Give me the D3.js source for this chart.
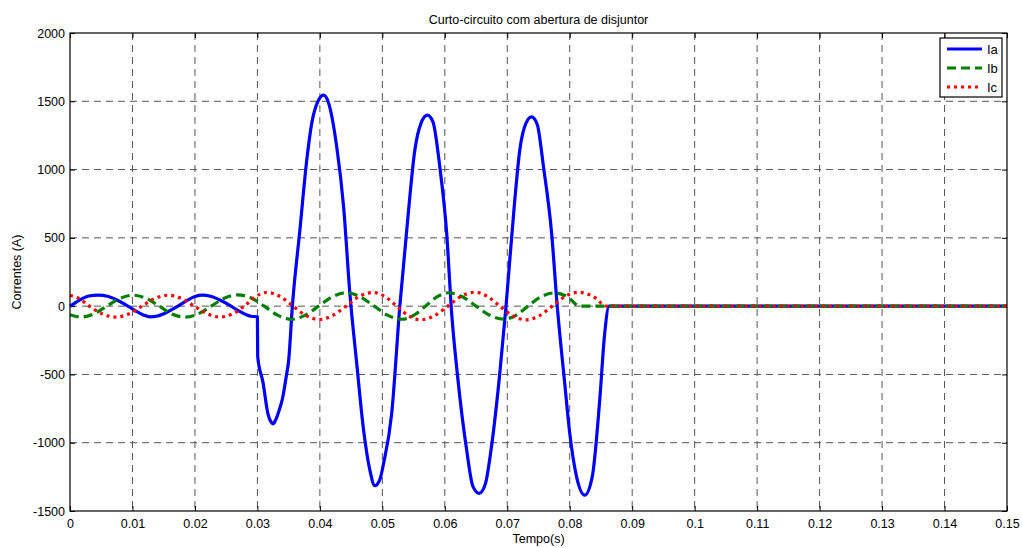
<!DOCTYPE html>
<html>
<head>
<meta charset="utf-8">
<script src="https://cdn.jsdelivr.net/npm/d3@7"></script>
<style>
  body { margin: 0; background: #fff; }
  text { font-family: "Liberation Sans", Arial, sans-serif; }
</style>
</head>
<body>
<div id="chart"></div>
<script>
// tick labels
var xTicks = [0, 0.01, 0.02, 0.03, 0.04, 0.05, 0.06, 0.07, 0.08, 0.09, 0.1, 0.11, 0.12, 0.13, 0.14, 0.15];
var yTicks = [-1500, -1000, -500, 0, 500, 1000, 1500, 2000];
var seriesNames = ["Ia", "Ib", "Ic"];

// [tempo (s), corrente (A)]
var ia = [
  [0, 0], [0.001, 30], [0.002, 56], [0.003, 74], [0.0045, 80], [0.006, 72], [0.0075, 45],
  [0.009, 8], [0.0105, -35], [0.0118, -66], [0.0128, -78], [0.014, -72], [0.0155, -45],
  [0.017, -8], [0.0185, 35], [0.02, 70], [0.0212, 80], [0.0225, 72], [0.024, 45],
  [0.0255, 8], [0.027, -35], [0.0283, -64], [0.029, -74], [0.0300, -78],
  [0.03005, -370], [0.0309, -560], [0.0317, -790], [0.0322, -850], [0.0325, -862],
  [0.0329, -835], [0.0335, -760], [0.034, -680], [0.0346, -520], [0.035, -400],
  [0.0356, 0], [0.0368, 556], [0.0379, 1069],
  [0.0387, 1340], [0.0398, 1510], [0.0406, 1545], [0.0413, 1500], [0.0427, 1166],
  [0.0438, 727], [0.0448, 95], [0.0459, -420], [0.047, -908], [0.048, -1200],
  [0.0488, -1315], [0.0496, -1270], [0.0502, -1152], [0.0515, -785], [0.0528, 0],
  [0.0541, 654], [0.0552, 1142], [0.0562, 1340], [0.0572, 1398], [0.0581, 1350],
  [0.0592, 1020], [0.0603, 534], [0.0611, -53], [0.0620, -493], [0.0635, -1054],
  [0.0645, -1320], [0.0655, -1371], [0.0665, -1300], [0.0674, -1054], [0.0688, -493],
  [0.0698, 0], [0.0712, 776], [0.072, 1142], [0.073, 1340], [0.0739, 1386],
  [0.0748, 1330], [0.0758, 1020], [0.0771, 534], [0.078, 0], [0.0792, -566],
  [0.08, -930], [0.0811, -1250], [0.0824, -1384], [0.0836, -1250], [0.0848, -688],
  [0.0856, -198], [0.0863, 0], [0.15, 0]
];

var ib = [
  [0, -63], [0.0018, -80], [0.0038, -57], [0.0059, 0], [0.008, 57], [0.0101, 80],
  [0.0122, 57], [0.0143, 0], [0.0163, -57], [0.0184, -80], [0.0205, -57], [0.0226, 0],
  [0.0247, 58], [0.0268, 82], [0.029, 60], [0.0311, 0], [0.0333, -68], [0.0355, -96],
  [0.0376, -68], [0.0398, 0], [0.042, 69], [0.0442, 98], [0.0464, 69], [0.0487, 0],
  [0.0509, -68], [0.0531, -96], [0.055, -68], [0.0569, 0], [0.0588, 69], [0.0606, 98],
  [0.0628, 69], [0.065, 0], [0.0672, -67], [0.0694, -95], [0.0714, -67], [0.0733, 0],
  [0.0754, 69], [0.0776, 97], [0.0796, 69], [0.0816, 0], [0.15, 0]
];

var ic = [
  [0, 78], [0.0011, 64], [0.0031, 0], [0.0052, -57], [0.0073, -80], [0.0094, -57],
  [0.0115, 0], [0.0136, 57], [0.0157, 80], [0.0178, 57], [0.0199, 0], [0.022, -57],
  [0.024, -80], [0.026, -57], [0.0279, 0], [0.0297, 70], [0.0315, 100], [0.0336, 71],
  [0.0357, 0], [0.0378, -69], [0.0399, -98], [0.042, -69], [0.0442, 0], [0.0463, 71],
  [0.0485, 100], [0.0504, 71], [0.0523, 0], [0.0542, -71], [0.0562, -100], [0.0583, -71],
  [0.0605, 0], [0.0626, 72], [0.0648, 102], [0.0668, 72], [0.0688, 0], [0.0709, -71],
  [0.073, -100], [0.0751, -71], [0.0772, 0], [0.0793, 72], [0.0814, 102], [0.0837, 72],
  [0.086, 0], [0.15, 0]
];

var width = 1022, height = 548;
var margin = {top: 33, right: 15, bottom: 37, left: 70};
var w = width - margin.left - margin.right;
var h = height - margin.top - margin.bottom;

var svg = d3.select("#chart").append("svg")
    .attr("width", width)
    .attr("height", height)
    .style("background", "#fff");

var g = svg.append("g")
    .attr("transform", "translate(" + margin.left + "," + margin.top + ")");

var x = d3.scaleLinear().domain([0, 0.15]).range([0, w]);
var y = d3.scaleLinear().domain([-1500, 2000]).range([h, 0]);

// grid
g.selectAll(".vgrid").data(xTicks.slice(1, -1)).enter()
    .append("line")
    .attr("x1", function(d) { return x(d); })
    .attr("x2", function(d) { return x(d); })
    .attr("y1", 0).attr("y2", h)
    .attr("stroke", "#555")
    .attr("stroke-dasharray", "7,5");
g.selectAll(".hgrid").data(yTicks.slice(1, -1)).enter()
    .append("line")
    .attr("y1", function(d) { return y(d); })
    .attr("y2", function(d) { return y(d); })
    .attr("x1", 0).attr("x2", w)
    .attr("stroke", "#555")
    .attr("stroke-dasharray", "7,5");

// axes (ticks pointing inward, like matlab)
var xAxis = d3.axisBottom(x).tickValues(xTicks).tickSize(-5).tickPadding(8)
    .tickFormat(function(d) { return d3.format("~g")(d); });
var yAxis = d3.axisLeft(y).tickValues(yTicks).tickSize(-5).tickPadding(5)
    .tickFormat(function(d) { return String(d); });

g.append("g").attr("transform", "translate(0," + h + ")").call(xAxis);
g.append("g").call(yAxis);
g.append("g").call(d3.axisTop(x).tickValues(xTicks).tickSize(-5).tickFormat(""));
g.append("g").attr("transform", "translate(" + w + ",0)")
    .call(d3.axisRight(y).tickValues(yTicks).tickSize(-5).tickFormat(""));

svg.selectAll(".domain").remove();
svg.selectAll(".tick line").attr("stroke", "#000");
svg.selectAll(".tick text")
    .attr("font-size", "12.5px")
    .attr("fill", "#000")
    .style("font-family", "'Liberation Sans', Arial, sans-serif");

// series
var line = d3.line()
    .x(function(d) { return x(d[0]); })
    .y(function(d) { return y(d[1]); })
    .curve(d3.curveMonotoneX);

g.append("path").datum(ia)
    .attr("d", line)
    .attr("fill", "none")
    .attr("stroke", "#0000ff")
    .attr("stroke-width", 3.2)
    .attr("stroke-linejoin", "round");
g.append("path").datum(ib)
    .attr("d", line)
    .attr("fill", "none")
    .attr("stroke", "#008000")
    .attr("stroke-width", 3.2)
    .attr("stroke-dasharray", "9,5");
g.append("path").datum(ic)
    .attr("d", line)
    .attr("fill", "none")
    .attr("stroke", "#ff0000")
    .attr("stroke-width", 3.2)
    .attr("stroke-dasharray", "3,4");

// box
g.append("rect")
    .attr("width", w).attr("height", h)
    .attr("fill", "none")
    .attr("stroke", "#000")
    .attr("stroke-width", 1.2);

// title & labels
svg.append("text")
    .attr("x", margin.left + w / 2).attr("y", 24)
    .attr("text-anchor", "middle")
    .attr("font-size", "12.5px")
    .text("Curto-circuito com abertura de disjuntor");
svg.append("text")
    .attr("x", margin.left + w / 2).attr("y", 543)
    .attr("text-anchor", "middle")
    .attr("font-size", "12.5px")
    .text("Tempo(s)");
svg.append("text")
    .attr("transform", "translate(21," + (margin.top + h / 2) + ") rotate(-90)")
    .attr("text-anchor", "middle")
    .attr("font-size", "12.5px")
    .text("Correntes (A)");

// legend
var legend = svg.append("g").attr("transform", "translate(940,38)");
legend.append("rect")
    .attr("width", 62).attr("height", 59)
    .attr("fill", "#fff")
    .attr("stroke", "#000")
    .attr("stroke-width", 1.2);
var legStyles = [
  {c: "#0000ff", dash: null},
  {c: "#008000", dash: "9,5"},
  {c: "#ff0000", dash: "3,4"}
];
seriesNames.forEach(function(name, i) {
    var yy = 11 + i * 19;
    legend.append("line")
        .attr("x1", 7).attr("x2", 42)
        .attr("y1", yy).attr("y2", yy)
        .attr("stroke", legStyles[i].c)
        .attr("stroke-width", 3.2)
        .attr("stroke-dasharray", legStyles[i].dash);
    legend.append("text")
        .attr("x", 47).attr("y", yy + 5)
        .attr("font-size", "13px")
        .text(name);
});
</script>
</body>
</html>
